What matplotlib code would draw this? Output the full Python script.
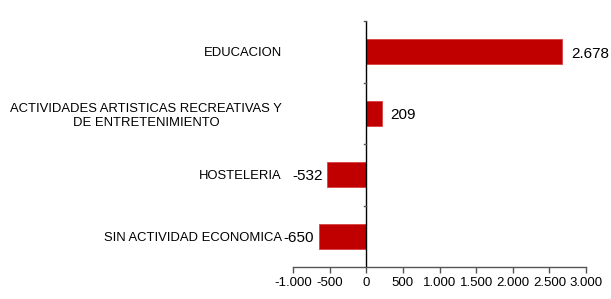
import matplotlib
matplotlib.use("Agg")
import matplotlib.pyplot as plt
import numpy as np

categories = ["EDUCACION", "ACTIVIDADES ARTISTICAS RECREATIVAS Y\nDE ENTRETENIMIENTO",
              "HOSTELERIA", "SIN ACTIVIDAD ECONOMICA"]
values = [2678, 209, -532, -650]
value_labels = ["2.678", "209", "-532", "-650"]
xticks = [-1000, -500, 0, 500, 1000, 1500, 2000, 2500, 3000]
xtick_labels = ["-1.000", "-500", "0", "500", "1.000", "1.500", "2.000", "2.500", "3.000"]

plt.rcParams['font.family'] = ['Liberation Sans', 'DejaVu Sans']

fig = plt.figure(figsize=(6.11, 2.99), dpi=100)
ax = fig.add_axes([293/611, 32/299, 293/611, 246/299])

y = np.arange(len(categories))
ax.barh(y, values, height=0.4, color="#C00000", edgecolor="#D84040", linewidth=0.6, zorder=2)
ax.set_ylim(len(categories) - 0.5, -0.5)
ax.set_xlim(-1000, 3000)

for sp in ["top", "right", "left"]:
    ax.spines[sp].set_visible(False)
ax.spines["bottom"].set_color("#555555")
ax.spines["bottom"].set_linewidth(1.0)
ax.axvline(0, color="black", linewidth=1.0, zorder=3)

ax.set_xticks(xticks)
ax.set_xticklabels(xtick_labels, fontsize=9.5)
ax.tick_params(axis="x", direction="out", length=4, width=1, color="#555555", pad=3)

ax.set_yticks(y)
ax.set_yticklabels(categories, fontsize=9.4, ha="right", multialignment="center")
ax.tick_params(axis="y", length=0, pad=8)

for yi, v, lab in zip(y, values, value_labels):
    if v >= 0:
        ax.annotate(lab, (v, yi), xytext=(6.5, -1.5), textcoords="offset points",
                    ha="left", va="center", fontsize=11)
    else:
        ax.annotate(lab, (v, yi), xytext=(-3.5, -1), textcoords="offset points",
                    ha="right", va="center", fontsize=11)

# small tick marks on the zero axis between categories
for b in np.arange(len(categories)) - 0.5:
    ax.plot([-25, 0], [b, b], color="#555555", linewidth=1, clip_on=False, zorder=3)

fig.savefig("out.png", dpi=100)
